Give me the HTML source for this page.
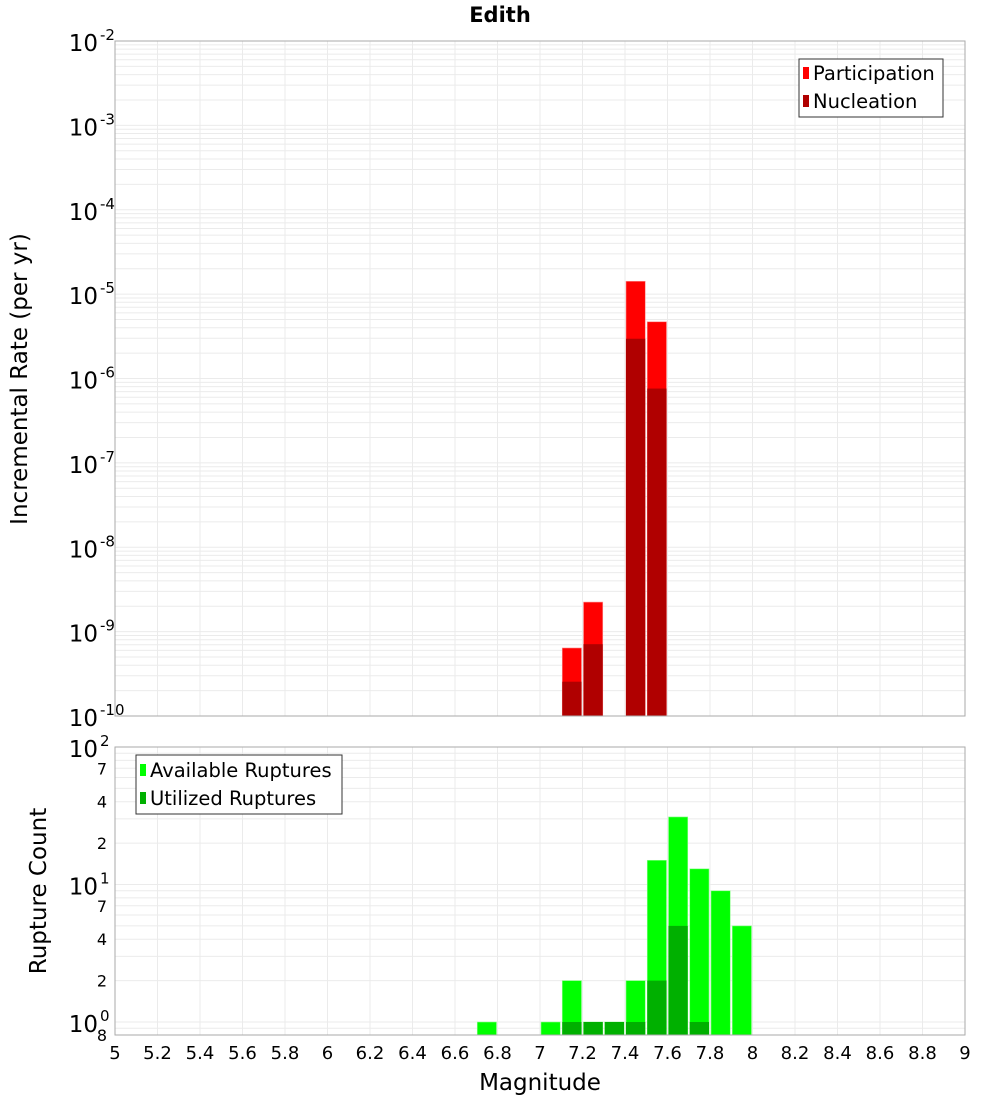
<!DOCTYPE html>
<html><head><meta charset="utf-8"><style>
body{margin:0;background:#fff;}
svg text{font-family:"DejaVu Sans","Liberation Sans",sans-serif;fill:#000;}
</style></head><body>
<svg id="c" width="1000" height="1100" xmlns="http://www.w3.org/2000/svg">
<text x="500" y="22" font-size="21" font-weight="bold" text-anchor="middle">Edith</text>
<g id="topg"></g><g id="botg"></g><g id="xt"></g>
<text x="540" y="1090" font-size="23" text-anchor="middle">Magnitude</text>
<text transform="translate(27,379) rotate(-90)" font-size="23" text-anchor="middle">Incremental Rate (per yr)</text>
<text transform="translate(46,891) rotate(-90)" font-size="23" text-anchor="middle">Rupture Count</text>
<g>
<rect x="799" y="59" width="144" height="58" fill="#fff" stroke="#333"/>
<rect x="803" y="67" width="6" height="12" fill="#ff0000"/><text x="813" y="80" font-size="19.5">Participation</text>
<rect x="803" y="95" width="6" height="12" fill="#b00000"/><text x="813" y="108" font-size="19.5">Nucleation</text>
</g>
<g>
<rect x="136" y="755" width="206" height="59" fill="#fff" stroke="#333"/>
<rect x="140" y="764" width="6" height="12" fill="#00ff00"/><text x="150" y="777" font-size="19.5">Available Ruptures</text>
<rect x="140" y="792" width="6" height="12" fill="#00b000"/><text x="150" y="805" font-size="19.5">Utilized Ruptures</text>
</g>
</svg>
<script>
const binStarts=[7.1,7.2,7.4,7.5];
const participation=[6.4e-10,2.24e-9,1.42e-5,4.7e-6];
const nucleation=[2.55e-10,7.1e-10,2.96e-6,7.6e-7];
const countBins=[6.7,7.0,7.1,7.2,7.3,7.4,7.5,7.6,7.7,7.8,7.9];
const available=[1,1,2,1,1,2,15,31,13,9,5];
const utilized=[0,0,1,1,1,1,2,5,1,0,0];
const xTicks=[5,5.2,5.4,5.6,5.8,6,6.2,6.4,6.6,6.8,7,7.2,7.4,7.6,7.8,8,8.2,8.4,8.6,8.8,9];
const topDecades=[-2,-3,-4,-5,-6,-7,-8,-9,-10];
const botMinor=[2,4,7,20,40,70];

const NS="http://www.w3.org/2000/svg";
const L=115,R=965;
const X=v=>L+(v-5)*(R-L)/4;
const TT=41,TB=716;
const YT=v=>TT+(-2-Math.log10(v))*(TB-TT)/8;
const BT=747,BB=1035;
const YB=v=>BT+(2-Math.log10(v))*137.5;
function mk(p,tag,a){const e=document.createElementNS(NS,tag);for(const k in a)e.setAttribute(k,a[k]);p.appendChild(e);return e;}
const topG=document.getElementById('topg'),botG=document.getElementById('botg'),xt=document.getElementById('xt');
mk(topG,'rect',{x:L,y:TT,width:R-L,height:TB-TT,fill:'#fff'});
for(let d=-10;d<-2;d++)for(let m=1;m<10;m++){const y=YT(m*Math.pow(10,d));mk(topG,'line',{x1:L,x2:R,y1:y,y2:y,stroke:'#ebebeb','stroke-width':1});}
xTicks.forEach(t=>{const x=X(t);mk(topG,'line',{x1:x,x2:x,y1:TT,y2:TB,stroke:'#ebebeb'});mk(botG,'line',{x1:x,x2:x,y1:BT,y2:BB,stroke:'#ebebeb'});});
binStarts.forEach((b,i)=>{
 const x=X(b)+1,w=X(b+0.1)-X(b)-2;
 let r=mk(topG,'rect',{x:x,y:YT(participation[i]),width:w,height:TB-YT(participation[i]),fill:'#ff0000',stroke:'#ff9090','stroke-width':0.6});
 
 
 r=mk(topG,'rect',{x:x,y:YT(nucleation[i]),width:w,height:TB-YT(nucleation[i]),fill:'#b00000'});
 
 
});
mk(topG,'rect',{x:L,y:TT,width:R-L,height:TB-TT,fill:'none',stroke:'#aaa'});
topDecades.forEach(d=>{const y=YT(Math.pow(10,d));
 const t=mk(topG,'text',{x:98,y:y+10,'font-size':23,'text-anchor':'end'});t.textContent='10';
 
 
 const s=mk(topG,'text',{x:100,y:y-1,'font-size':15});s.textContent=String(d);
});
for(let d=-1;d<2;d++)for(let m=1;m<10;m++){const v=m*Math.pow(10,d);const y=YB(v);if(y>BB||y<BT)continue;mk(botG,'line',{x1:L,x2:R,y1:y,y2:y,stroke:'#ebebeb'});}
countBins.forEach((b,i)=>{
 const x=X(b)+1,w=X(b+0.1)-X(b)-2;
 let r=mk(botG,'rect',{x:x,y:YB(available[i]),width:w,height:BB-YB(available[i]),fill:'#00ff00',stroke:'#90ff90','stroke-width':0.6});
 
 
 if(utilized[i]>0){r=mk(botG,'rect',{x:x,y:YB(utilized[i]),width:w,height:BB-YB(utilized[i]),fill:'#00b000'});
 
 }
});
mk(botG,'rect',{x:L,y:BT,width:R-L,height:BB-BT,fill:'none',stroke:'#aaa'});
[2,1,0].forEach(d=>{const y=YB(Math.pow(10,d));
 const t=mk(botG,'text',{x:98,y:y+10,'font-size':23,'text-anchor':'end'});t.textContent='10';
 
 
 const s=mk(botG,'text',{x:100,y:y-1,'font-size':15});s.textContent=String(d);
});
botMinor.forEach(v=>{const y=YB(v);const t=mk(botG,'text',{x:107,y:y+6,'font-size':16,'text-anchor':'end'});t.textContent=String(v).charAt(0);
 
 });
{const t=mk(botG,'text',{x:107,y:1041,'font-size':16,'text-anchor':'end'});t.textContent='8';}
xTicks.forEach(v=>{const t=mk(xt,'text',{x:X(v),y:1059,'font-size':18,'text-anchor':'middle'});t.textContent=String(v);
 
 });
</script>
</body></html>
